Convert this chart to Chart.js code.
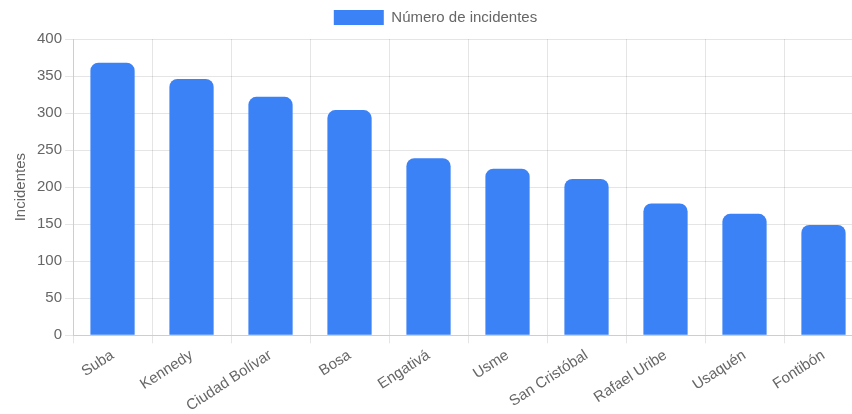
<!DOCTYPE html>
<html>
<head>
<meta charset="utf-8">
<script src="https://cdn.jsdelivr.net/npm/chart.js@4.4.0/dist/chart.umd.min.js"></script>
<style>
  html, body { margin: 0; padding: 0; background: #fff; overflow: hidden; }
  #wrap { position: relative; width: 868px; height: 418px; }
</style>
</head>
<body>
<div id="wrap"><canvas id="chart"></canvas></div>
<script>
'use strict';

const localidades = [
  'Suba', 'Kennedy', 'Ciudad Bolívar', 'Bosa', 'Engativá',
  'Usme', 'San Cristóbal', 'Rafael Uribe', 'Usaquén', 'Fontibón',
];
const incidentes = [368, 346, 322, 304, 239, 225, 211, 178, 164, 149];
const yTicks = [0, 50, 100, 150, 200, 250, 300, 350, 400];

const chartData = {
  labels: localidades,
  datasets: [
    {
      label: 'Número de incidentes',
      data: incidentes,
      backgroundColor: '#3b82f6',
      borderRadius: 8,
      barPercentage: 0.7,
      categoryPercentage: 0.8,
    },
  ],
};

const options = {
  responsive: true,
  maintainAspectRatio: false,
  animation: false,
  layout: { padding: { left: 8, right: 5, top: 0 } },
  scales: {
    y: {
      min: 0,
      max: 400,
      afterBuildTicks: (axis) => {
        axis.ticks = yTicks.map((v) => ({ value: v }));
      },
      title: {
        display: true,
        text: 'Incidentes',
        color: '#666',
        font: { size: 15 },
      },
      ticks: { color: '#666', font: { size: 15 } },
      grid: { color: 'rgba(0, 0, 0, 0.1)' },
    },
    x: {
      ticks: {
        color: '#666',
        font: { size: 15 },
        minRotation: 33,
        maxRotation: 33,
      },
      grid: { color: 'rgba(0, 0, 0, 0.1)' },
    },
  },
  plugins: {
    legend: {
      display: true,
      labels: {
        color: '#666',
        boxWidth: 50,
        boxHeight: 15,
        font: { size: 15 },
      },
    },
    tooltip: { enabled: false },
  },
};

// legend gets a bit more room underneath, like in the reference
const legendGap = {
  id: 'legendGap',
  beforeInit(chart) {
    const fit = chart.legend.fit;
    chart.legend.fit = function () {
      fit.bind(chart.legend)();
      this.height += 4;
    };
  },
};

const ctx = document.getElementById('chart');
new Chart(ctx, {
  type: 'bar',
  data: chartData,
  options: options,
  plugins: [legendGap],
});
</script>
</body>
</html>
